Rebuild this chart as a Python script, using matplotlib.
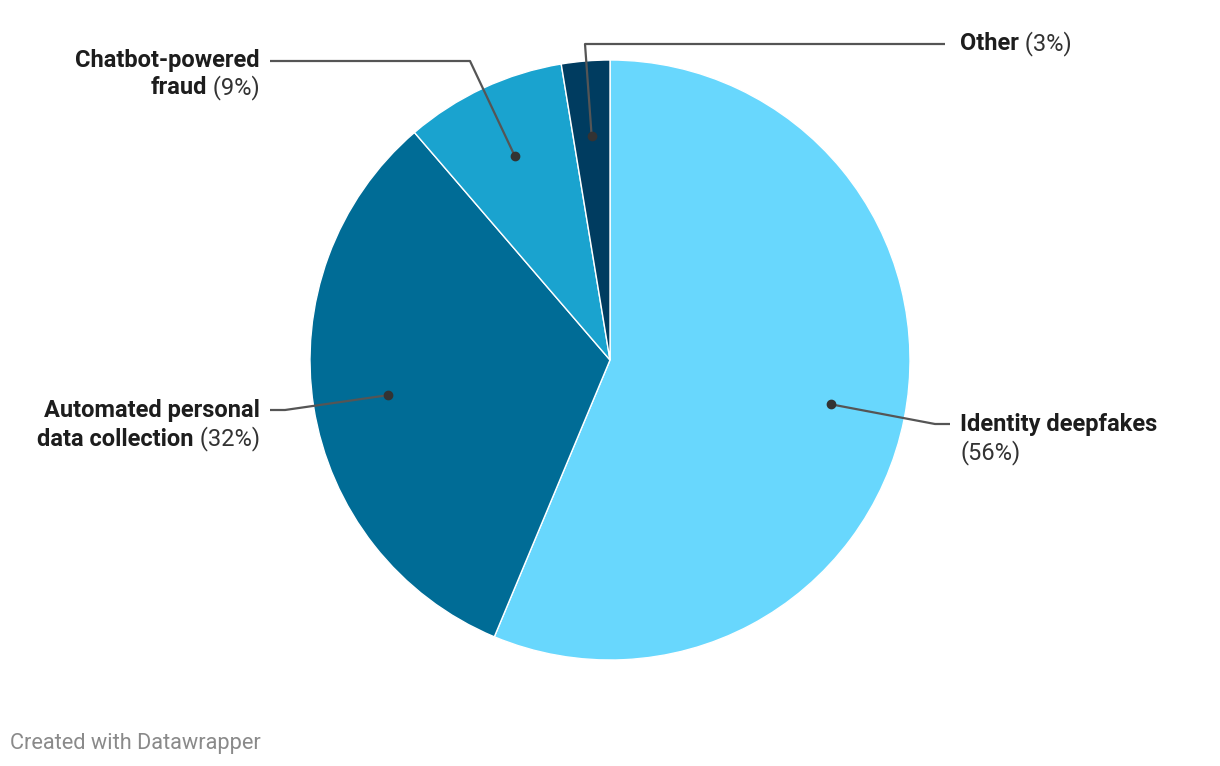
import matplotlib
matplotlib.use("Agg")
import matplotlib.pyplot as plt
import numpy as np

categories = ["Identity deepfakes", "Automated personal\ndata collection", "Chatbot-powered\nfraud", "Other"]
values = [56.3, 32.4, 8.7, 2.6]
pct_labels = ["56%", "32%", "9%", "3%"]
colors = ["#68d7fd", "#006c96", "#1aa3cf", "#003c60"]

W, H = 1220, 766
fig = plt.figure(figsize=(W / 100, H / 100), dpi=100)
ax = fig.add_axes([0, 0, 1, 1])

cx, cy, R = 610, H - 360, 300
wedges, _ = ax.pie(values, colors=colors, startangle=90, counterclock=False,
                   center=(cx, cy), radius=R, frame=True,
                   wedgeprops=dict(edgecolor="white", linewidth=1))
ax.set_xlim(0, W)
ax.set_ylim(0, H)
ax.set_aspect("equal")
ax.axis("off")

FS = 17
# label layout (image pixel coords): elbow points and text anchors
layout = [
    dict(elbow=(935, 424), end=(950, 424), text=(960, 425), ha="left"),
    dict(elbow=(285, 410), end=(270, 410), text=(260, 411), ha="right"),
    dict(elbow=(470, 61), end=(270, 61), text=(260, 60), ha="right"),
    dict(elbow=(585, 44), end=(945, 44), text=(960, 44), ha="left"),
]

line_h = 28
inv = ax.transData.inverted()
for w, cat, pct, lay in zip(wedges, categories, pct_labels, layout):
    mid = np.deg2rad((w.theta1 + w.theta2) / 2)
    dx = cx + 0.75 * R * np.cos(mid)
    dy = cy + 0.75 * R * np.sin(mid)
    ex, ey = lay["elbow"]
    fx, fy = lay["end"]
    ax.plot([dx, ex, fx], [dy, H - ey, H - fy], color="#555555", lw=1.6,
            solid_capstyle="butt", zorder=5)
    ax.plot([dx], [dy], "o", color="#333333", ms=6, zorder=6)

    tx, ty = lay["text"]
    lines = cat.split("\n")
    if cat == "Identity deepfakes":
        rows = [(lines[0], None), ("", pct)]
    else:
        rows = [(l, None) for l in lines[:-1]] + [(lines[-1], pct)]
    for i, (bold_part, p) in enumerate(rows):
        y = H - (ty + i * line_h)
        if lay["ha"] == "left":
            if bold_part:
                t = ax.text(tx, y, bold_part, ha="left", va="center", fontsize=FS,
                            fontweight="bold", family="Roboto", color="#1d1d1d")
            if p is not None:
                if bold_part:
                    fig.canvas.draw()
                    bb = t.get_window_extent()
                    x1 = inv.transform((bb.x1, bb.y0))[0]
                    ax.text(x1, y, " (" + p + ")", ha="left", va="center", fontsize=FS,
                            family="Roboto", color="#333333")
                else:
                    ax.text(tx, y, "(" + p + ")", ha="left", va="center", fontsize=FS,
                            family="Roboto", color="#333333")
        else:
            if p is not None:
                t = ax.text(tx, y, " (" + p + ")", ha="right", va="center", fontsize=FS,
                            family="Roboto", color="#333333")
                fig.canvas.draw()
                bb = t.get_window_extent()
                x0 = inv.transform((bb.x0, bb.y0))[0]
                ax.text(x0, y, bold_part, ha="right", va="center", fontsize=FS,
                        fontweight="bold", family="Roboto", color="#1d1d1d")
            else:
                ax.text(tx, y, bold_part, ha="right", va="center", fontsize=FS,
                        fontweight="bold", family="Roboto", color="#1d1d1d")

ax.text(10, H - 743, "Created with Datawrapper", ha="left", va="center",
        fontsize=15.7, family="Roboto", color="#8a8a8a")

fig.savefig("out.png", dpi=100)
